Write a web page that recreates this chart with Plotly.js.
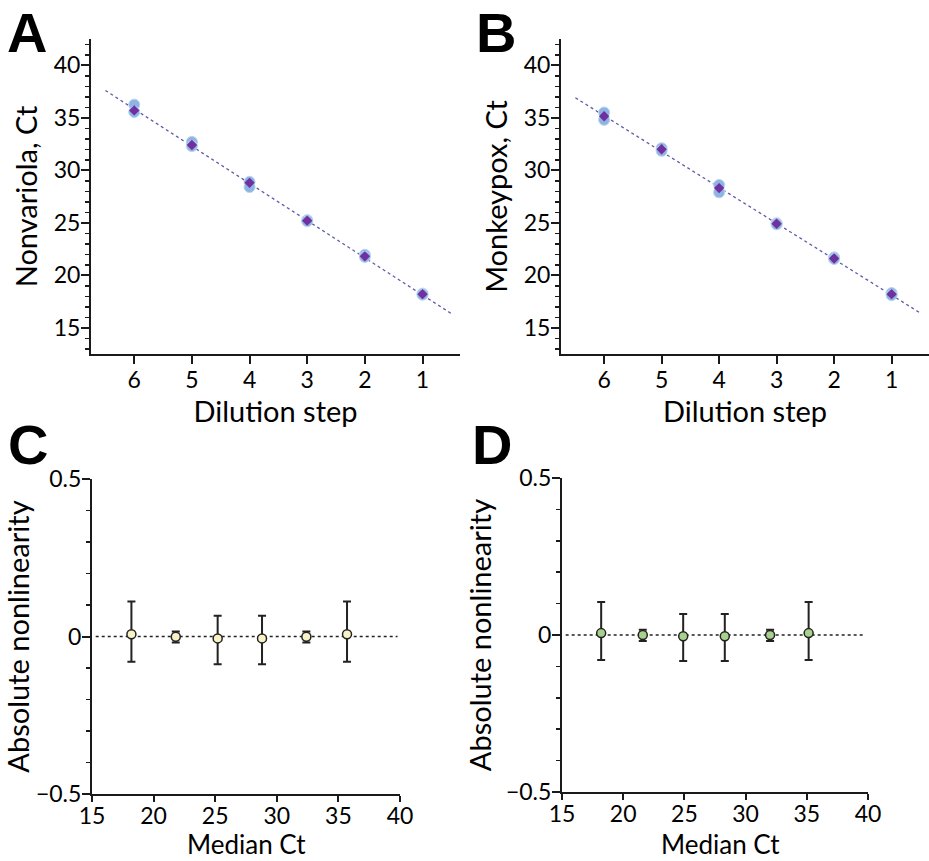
<!DOCTYPE html>
<html><head><meta charset="utf-8">
<script src="https://cdn.plot.ly/plotly-3.0.1.min.js"></script>
<style>html,body{margin:0;padding:0;background:#fff}#chart{width:929px;height:861px}</style>
</head><body><div id="chart"></div>
<script>
// ---- data ----
var dilutionSteps = [6, 5, 4, 3, 2, 1];
var nonvariolaRep1 = [36.25, 32.7, 28.9, 25.25, 21.95, 18.25];
var nonvariolaRep2 = [35.55, 32.3, 28.4, 25.15, 21.75, 18.15];
var nonvariolaMedian = [35.7, 32.4, 28.8, 25.2, 21.8, 18.2];
var monkeypoxRep1 = [35.5, 32.1, 28.6, 24.95, 21.7, 18.3];
var monkeypoxRep2 = [34.8, 31.85, 27.9, 24.85, 21.55, 18.1];
var monkeypoxMedian = [35.15, 32.0, 28.3, 24.9, 21.6, 18.2];
var fitX = [6.5, 0.5];
var nonvariolaFitY = [37.6, 16.35];
var monkeypoxFitY = [36.9, 16.4];
// panel C / D (ordered by dilution step 6..1)
var nonvariolaNonlin = [0.007, -0.001, -0.006, -0.006, -0.001, 0.007];
var nonvariolaErrUp = [0.104, 0.017, 0.072, 0.072, 0.017, 0.104];
var nonvariolaErrDown = [0.087, 0.018, 0.082, 0.082, 0.018, 0.087];
var monkeypoxNonlin = [0.006, 0, -0.004, -0.004, 0, 0.006];
var monkeypoxErrUp = [0.099, 0.017, 0.071, 0.071, 0.017, 0.099];
var monkeypoxErrDown = [0.086, 0.019, 0.079, 0.079, 0.019, 0.086];
var zeroLineX = [15.3, 39.8];
var zeroLineY = [0, 0];
var ctTicks = [15, 20, 25, 30, 35, 40];
var medianTicks = [15, 20, 25, 30, 35, 40];
var nlTicks = [-0.5, 0, 0.5];
var nlTickText = ['\u22120.5', '0', '0.5'];

var FONT = "Lato, Noto Sans, sans-serif";
var LETTER_FONT = "Liberation Sans, Arial, sans-serif";
var AX = '#1a1a1a';
var blue = '#8db4e2', purple = '#7030a0', fitColor = '#5c5caa';

function repTrace(x, y, xa, ya) {
  return {x: x, y: y, xaxis: xa, yaxis: ya, type: 'scatter', mode: 'markers',
    marker: {symbol: 'circle', size: 11, color: blue, line: {color: '#b9d3ef', width: 1}},
    hoverinfo: 'skip', showlegend: false};
}
function medTrace(x, y, xa, ya) {
  return {x: x, y: y, xaxis: xa, yaxis: ya, type: 'scatter', mode: 'markers',
    marker: {symbol: 'diamond', size: 8, color: purple, line: {width: 0}},
    hoverinfo: 'skip', showlegend: false};
}
function fitTrace(x, y, xa, ya) {
  return {x: x, y: y, xaxis: xa, yaxis: ya, type: 'scatter', mode: 'lines',
    line: {color: fitColor, width: 1.3, dash: 'dot'}, hoverinfo: 'skip', showlegend: false};
}
function zeroTrace(xa, ya) {
  return {x: zeroLineX, y: zeroLineY, xaxis: xa, yaxis: ya, type: 'scatter', mode: 'lines',
    line: {color: '#222', width: 1.5, dash: 'dot'}, hoverinfo: 'skip', showlegend: false};
}
function nlTrace(x, y, up, down, fill, xa, ya) {
  return {x: x, y: y, xaxis: xa, yaxis: ya, type: 'scatter', mode: 'markers',
    error_y: {type: 'data', symmetric: false, array: up, arrayminus: down, color: '#222', thickness: 2, width: 4},
    marker: {symbol: 'circle', size: 9, color: fill, line: {color: '#222', width: 1.5}},
    hoverinfo: 'skip', showlegend: false};
}

var data = [
  fitTrace(fitX, nonvariolaFitY, 'x', 'y'),
  repTrace(dilutionSteps, nonvariolaRep1, 'x', 'y'),
  repTrace(dilutionSteps, nonvariolaRep2, 'x', 'y'),
  medTrace(dilutionSteps, nonvariolaMedian, 'x', 'y'),
  fitTrace(fitX, monkeypoxFitY, 'x2', 'y2'),
  repTrace(dilutionSteps, monkeypoxRep1, 'x2', 'y2'),
  repTrace(dilutionSteps, monkeypoxRep2, 'x2', 'y2'),
  medTrace(dilutionSteps, monkeypoxMedian, 'x2', 'y2'),
  zeroTrace('x3', 'y3'),
  nlTrace(nonvariolaMedian, nonvariolaNonlin, nonvariolaErrUp, nonvariolaErrDown, '#f7f3c6', 'x3', 'y3'),
  zeroTrace('x4', 'y4'),
  nlTrace(monkeypoxMedian, monkeypoxNonlin, monkeypoxErrUp, monkeypoxErrDown, '#a9d18e', 'x4', 'y4')
];

var W = 929, H = 861;
function xd(a, b) { return [a / W, b / W]; }
function yd(top, bottom) { return [1 - bottom / H, 1 - top / H]; }

var tickFont = {family: FONT, size: 23, color: '#000'};
var titleFont = {family: FONT, size: 29, color: '#000'};

function dilX(domain, anchor) {
  return {domain: domain, anchor: anchor, range: [6.75, 0.35], tickmode: 'array', tickvals: dilutionSteps,
    ticktext: dilutionSteps.map(String), ticks: 'outside', ticklen: 8, tickwidth: 2, tickcolor: AX,
    ticklabelstandoff: -4,
    showline: true, linecolor: AX, linewidth: 2, showgrid: false, zeroline: false,
    tickfont: tickFont, title: {text: 'Dilution step', font: titleFont, standoff: 0}};
}
function ctY(domain, anchor, label) {
  return {domain: domain, anchor: anchor, range: [12.5, 42.5], tickmode: 'array', tickvals: ctTicks,
    ticks: 'outside', ticklen: 8, tickwidth: 2, tickcolor: AX, ticklabelstandoff: -4,
    minor: {dtick: 1, tick0: 0, ticks: 'outside', ticklen: 4, tickwidth: 1.5, tickcolor: AX, showgrid: false},
    showline: true, linecolor: AX, linewidth: 2, showgrid: false, zeroline: false,
    tickfont: tickFont, title: {text: label, font: titleFont, standoff: 8}};
}
function medX(domain, anchor) {
  return {domain: domain, anchor: anchor, range: [15, 40], tickmode: 'array', tickvals: medianTicks,
    ticks: 'outside', ticklen: 6, tickwidth: 2, tickcolor: AX, ticklabelstandoff: -6,
    showline: true, linecolor: AX, linewidth: 2, showgrid: false, zeroline: false,
    tickfont: tickFont};
}
function nlY(domain, anchor) {
  return {domain: domain, anchor: anchor, range: [-0.5, 0.5], tickmode: 'array', tickvals: nlTicks,
    ticktext: nlTickText, ticklabelstandoff: -4,
    ticks: 'outside', ticklen: 8, tickwidth: 2, tickcolor: AX,
    minor: {dtick: 0.1, tick0: 0, ticks: 'outside', ticklen: 4, tickwidth: 1.5, tickcolor: AX, showgrid: false},
    showline: true, linecolor: AX, linewidth: 2, showgrid: false, zeroline: false,
    tickfont: tickFont, title: {text: 'Absolute nonlinearity', font: titleFont, standoff: 6}};
}

function letter(t, xpx, ypx) {
  return {text: '<b>' + t + '</b>', x: xpx / W, y: 1 - ypx / H, xref: 'paper', yref: 'paper',
    xanchor: 'left', yanchor: 'top', showarrow: false, borderpad: 0,
    font: {family: LETTER_FONT, size: 56, color: '#000'}};
}
function xTitle(t, xpx, ypx) {
  return {text: t, x: xpx / W, y: 1 - ypx / H, xref: 'paper', yref: 'paper',
    xanchor: 'center', yanchor: 'top', showarrow: false, borderpad: 0,
    font: {family: FONT, size: 26, color: '#000'}};
}

var layout = {
  width: W, height: H, margin: {l: 0, r: 0, t: 0, b: 0},
  paper_bgcolor: '#fff', plot_bgcolor: '#fff', showlegend: false, hovermode: false,
  font: {family: FONT, color: '#000'},
  xaxis: dilX(xd(91, 460), 'y'),
  yaxis: ctY(yd(39, 354), 'x', 'Nonvariola, Ct'),
  xaxis2: dilX(xd(561, 929), 'y2'),
  yaxis2: ctY(yd(39, 354), 'x2', 'Monkeypox, Ct'),
  xaxis3: medX(xd(92, 400), 'y3'),
  yaxis3: nlY(yd(479, 794), 'x3'),
  xaxis4: medX(xd(562, 868), 'y4'),
  yaxis4: nlY(yd(478, 792), 'x4'),
  annotations: [
    letter('A', 6, 0),
    letter('B', 475, 0),
    letter('C', 7, 412),
    letter('D', 471, 412),
    xTitle('Median Ct', 246, 827),
    xTitle('Median Ct', 720, 827)
  ]
};

Plotly.newPlot('chart', data, layout, {staticPlot: true, displayModeBar: false});
</script>
</body></html>
